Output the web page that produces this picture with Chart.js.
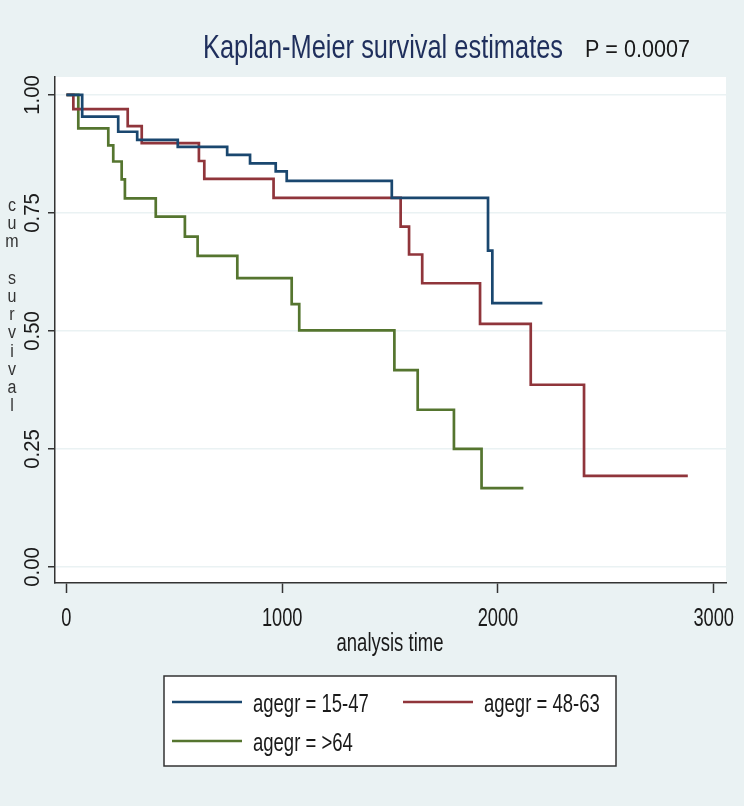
<!DOCTYPE html>
<html><head><meta charset="utf-8">
<script src="https://cdn.jsdelivr.net/npm/chart.js@4.4.1/dist/chart.umd.min.js"></script>
<style>
html,body{margin:0;padding:0;background:#eaf2f3;}
#wrap{position:relative;width:744px;height:806px;}
</style></head><body>
<div id="wrap"><canvas id="c" width="744" height="806"></canvas></div>
<script>
// ---- data ----
const titleText = 'Kaplan-Meier survival estimates';
const pValueText = 'P = 0.0007';
const xAxisTitle = 'analysis time';
const yAxisTitle = 'cum survival';
const xTicks = [0, 1000, 2000, 3000];
const yTicks = [0, 0.25, 0.5, 0.75, 1];
const groupLabels = ['agegr = 15-47', 'agegr = 48-63', 'agegr = >64'];

const time1547 = [0, 73, 240, 328, 516, 745, 851, 970, 1021, 1508, 1954, 1974, 2206];
const surv1547 = [1, 0.954, 0.922, 0.905, 0.890, 0.873, 0.855, 0.838, 0.818, 0.782, 0.670, 0.559, 0.559];

const time4863 = [0, 32, 284, 349, 614, 639, 960, 1549, 1588, 1649, 1917, 2152, 2399, 2880];
const surv4863 = [1, 0.970, 0.934, 0.898, 0.860, 0.822, 0.782, 0.721, 0.662, 0.601, 0.515, 0.386, 0.193, 0.193];

const time64 = [0, 55, 194, 217, 256, 271, 414, 549, 608, 792, 1044, 1079, 1520, 1628, 1796, 1924, 2118];
const surv64 = [1, 0.929, 0.893, 0.859, 0.821, 0.781, 0.742, 0.700, 0.659, 0.612, 0.557, 0.501, 0.417, 0.333, 0.250, 0.167, 0.167];

// ---- styling ----
const FONT = '"Liberation Sans", Arial, Helvetica, sans-serif';
const colors = ['#1a476f', '#90353b', '#55752f'];
const BG = '#eaf2f3';
const INK = '#1a1a1a';

function pts(t, s) { return t.map((v, i) => ({x: v, y: s[i]})); }
const series = [pts(time1547, surv1547), pts(time4863, surv4863), pts(time64, surv64)];

// draw text with horizontal compression (narrow face look)
function txt(ctx, str, x, y, size, sx, align, color, baseline, rot) {
  ctx.save();
  ctx.font = size + 'px ' + FONT;
  ctx.fillStyle = color;
  ctx.textBaseline = baseline || 'alphabetic';
  ctx.textAlign = 'left';
  const w = ctx.measureText(str).width * sx;
  ctx.translate(x, y);
  if (rot) ctx.rotate(rot);
  let ox = 0;
  if (align === 'center') ox = -w / 2; else if (align === 'right') ox = -w;
  ctx.translate(ox, 0);
  ctx.scale(sx, 1);
  ctx.fillText(str, 0, 0);
  ctx.restore();
  return w;
}

const decorPlugin = {
  id: 'decor',
  beforeDraw(chart) {
    const {ctx, chartArea: a} = chart;
    ctx.save();
    ctx.fillStyle = '#ffffff';
    ctx.fillRect(a.left, a.top, a.right - a.left, a.bottom - a.top);
    ctx.restore();
  },
  afterDraw(chart) {
    const {ctx} = chart;
    const xs = chart.scales.x, ys = chart.scales.y;
    // title + p value
    txt(ctx, titleText, 383, 58, 33, 0.77, 'center', '#1f2f5c');
    txt(ctx, pValueText, 585, 57, 24.5, 0.88, 'left', INK);
    // x tick labels
    xs.ticks.forEach(t => {
      txt(ctx, String(t.value), xs.getPixelForValue(t.value), 626, 25, 0.73, 'center', INK);
    });
    // y tick labels (rotated)
    ys.ticks.forEach(t => {
      txt(ctx, Number(t.value).toFixed(2), 33, ys.getPixelForValue(t.value), 22, 0.92, 'center', INK, 'middle', -Math.PI / 2);
    });
    // axis titles
    txt(ctx, xAxisTitle, 390, 651, 25, 0.74, 'center', INK);
    yAxisTitle.split('').forEach((ch, i) => {
      if (ch !== ' ') txt(ctx, ch, 12, 206 + i * 18.2, 18, 0.89, 'center', '#333333', 'middle');
    });
    // legend
    const lx = 164, ly = 676, lw = 452, lh = 90;
    ctx.save();
    ctx.fillStyle = '#ffffff';
    ctx.fillRect(lx, ly, lw, lh);
    ctx.strokeStyle = '#333333';
    ctx.lineWidth = 1.5;
    ctx.strokeRect(lx, ly, lw, lh);
    ctx.restore();
    const slots = [[172, 702], [403, 702], [172, 741]];
    chart.data.datasets.forEach((ds, i) => {
      const [sx, sy] = slots[i];
      ctx.save();
      ctx.strokeStyle = ds.borderColor;
      ctx.lineWidth = 2.5;
      ctx.beginPath(); ctx.moveTo(sx, sy); ctx.lineTo(sx + 70, sy); ctx.stroke();
      ctx.restore();
      txt(ctx, ds.label, sx + 81, sy + 9.5, 25, 0.74, 'left', INK);
    });
  }
};

new Chart(document.getElementById('c'), {
  type: 'line',
  data: {
    datasets: series.map((d, i) => ({
      label: groupLabels[i],
      data: d,
      borderColor: colors[i],
      backgroundColor: colors[i],
      borderWidth: 2.7,
      pointRadius: 0,
      stepped: 'before',
      fill: false,
      tension: 0
    }))
  },
  options: {
    responsive: false,
    animation: false,
    devicePixelRatio: 1,
    layout: {padding: {left: 0, right: 18, top: 77, bottom: 0}},
    plugins: {legend: {display: false}, title: {display: false}, tooltip: {enabled: false}},
    scales: {
      x: {
        type: 'linear', min: -53, max: 3057,
        afterBuildTicks: s => { s.ticks = xTicks.map(v => ({value: v})); },
        afterFit: s => { s.height = 223; },
        grid: {drawOnChartArea: false, drawTicks: true, tickLength: 10, tickColor: '#333333', tickWidth: 1.5},
        border: {display: true, color: '#333333', width: 1.5},
        ticks: {display: false, autoSkip: false}
      },
      y: {
        type: 'linear', min: -0.034, max: 1.038,
        afterBuildTicks: s => { s.ticks = yTicks.map(v => ({value: v})); },
        afterFit: s => { s.width = 55; },
        grid: {color: BG, lineWidth: 1.5, drawTicks: true, tickLength: 7, tickColor: '#333333', tickWidth: 1.5},
        border: {display: true, color: '#333333', width: 1.5},
        ticks: {display: false, autoSkip: false}
      }
    }
  },
  plugins: [decorPlugin]
});
</script>
</body></html>
